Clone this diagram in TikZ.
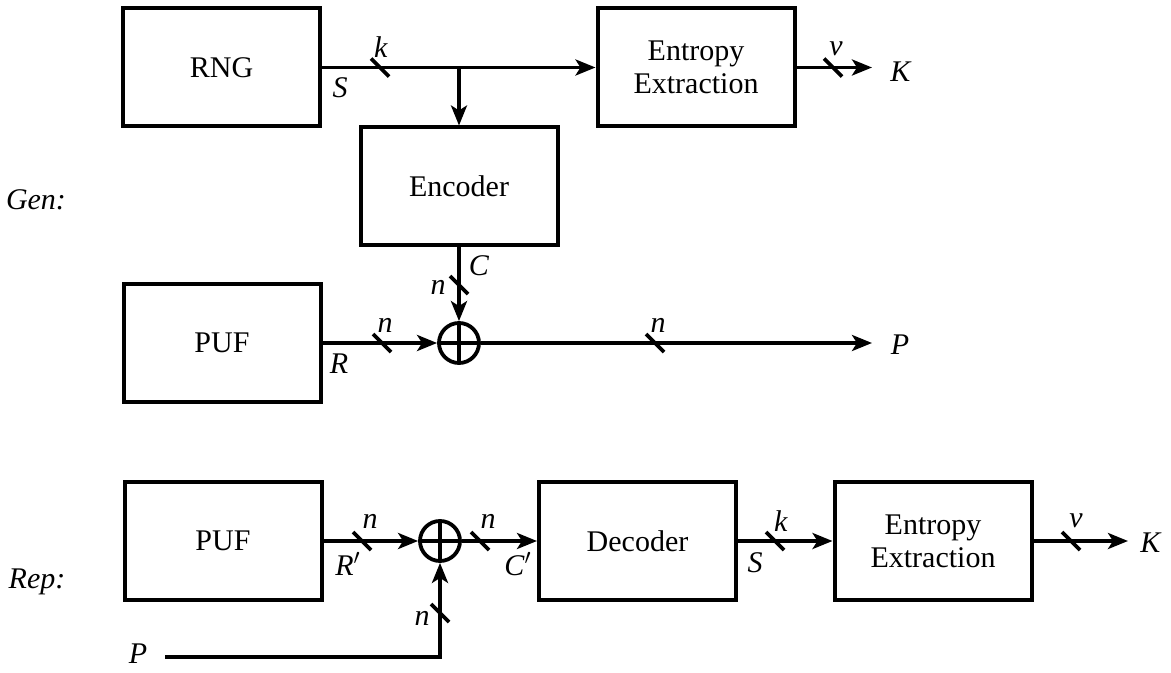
\documentclass[tikz,border=0pt]{standalone}
\usepackage{fontspec}
\setmainfont{Liberation Serif}
\usetikzlibrary{arrows.meta}

\newcommand{\bwtick}[2]{\draw[line width=1.8pt] (#1,#2) ++(-9,-9) -- ++(18,18);}

\begin{document}
\begin{tikzpicture}[x=0.5pt,y=-0.5pt,line width=1.8pt,
    every node/.style={font=\fontsize{15}{16.5}\selectfont},
    block/.style={draw,line width=2pt,minimum width=98.5pt,minimum height=59pt,inner sep=0pt,align=center},
    xorgate/.style={draw,circle,line width=1.9pt,minimum size=20pt,inner sep=0pt,
      path picture={\draw[line width=1.6pt] (path picture bounding box.north) -- (path picture bounding box.south)
        (path picture bounding box.west) -- (path picture bounding box.east);}},
    sig/.style={-{Stealth[length=10pt,width=8pt,inset=2.5pt]}},
    lbl/.style={inner sep=1pt}]
  \useasboundingbox (0,0) rectangle (1171,673);

  % Gen
  \node[lbl] (gen) at (36,200) {\textit{Gen:}};
  \node[block] (rng) at (221.5,67.5) {RNG};
  \node[block] (ee1) at (696,67.5) {Entropy\\Extraction};
  \node[block] (enc) at (459,186.5) {Encoder};
  \node[block] (puf1) at (222,343) {PUF};
  \node[xorgate] (xor1) at (459,343) {};
  \coordinate (br) at (459,67.5);
  \coordinate (kout1) at (872,67.5);
  \coordinate (pout) at (872,343);

  \draw[sig] (rng.east) -- (ee1.west);
  \draw[sig] (br) -- (enc.north);
  \draw[sig] (ee1.east) -- (kout1);
  \draw[sig] (enc.south) -- (xor1.north);
  \draw[sig] (puf1.east) -- (xor1.west);
  \draw[sig] (xor1.east) -- (pout);

  \bwtick{380}{67.5}
  \bwtick{833}{67.5}
  \bwtick{459}{285}
  \bwtick{382}{343}
  \bwtick{655}{343}

  \node[lbl] (k1) at (381,47) {\textit{k}};
  \node[lbl] (s1) at (340,88) {\textit{S}};
  \node[lbl] (v1) at (836,49) {\textit{v}};
  \node[lbl] (kk1) at (901,72) {\textit{K}};
  \node[lbl] (nc) at (438,287) {\textit{n}};
  \node[lbl] (c1) at (479,266) {\textit{C}};
  \node[lbl] (nr) at (385,325) {\textit{n}};
  \node[lbl] (r1) at (339,364) {\textit{R}};
  \node[lbl] (np) at (658,325) {\textit{n}};
  \node[lbl] (p1) at (900,345) {\textit{P}};

  % Rep
  \node[lbl] (rep) at (37,582) {\textit{Rep:}};
  \node[block] (puf2) at (223,541) {PUF};
  \node[xorgate] (xor2) at (440,541) {};
  \node[block] (dec) at (637.5,541) {Decoder};
  \node[block] (ee2) at (933,541) {Entropy\\Extraction};
  \coordinate (pin) at (165,657);
  \coordinate (kout2) at (1128,541);

  \draw[sig] (puf2.east) -- (xor2.west);
  \draw[sig] (xor2.east) -- (dec.west);
  \draw[sig] (dec.east) -- (ee2.west);
  \draw[sig] (ee2.east) -- (kout2);
  \draw[sig] (pin) -| (xor2.south);

  \bwtick{362}{541}
  \bwtick{480}{541}
  \bwtick{775}{541}
  \bwtick{1071}{541}
  \bwtick{440}{613}

  \node[lbl] (nr2) at (370,521) {\textit{n}};
  \node[lbl] (r2) at (348,564) {\textit{R}$'$};
  \node[lbl] (nc2) at (488,521) {\textit{n}};
  \node[lbl] (c2) at (518,564) {\textit{C}$'$};
  \node[lbl] (k2) at (781,521) {\textit{k}};
  \node[lbl] (s2) at (755,563) {\textit{S}};
  \node[lbl] (v2) at (1076,521) {\textit{v}};
  \node[lbl] (kk2) at (1151,543) {\textit{K}};
  \node[lbl] (np2) at (422,618) {\textit{n}};
  \node[lbl] (p2) at (138,654) {\textit{P}};
\end{tikzpicture}
\end{document}
